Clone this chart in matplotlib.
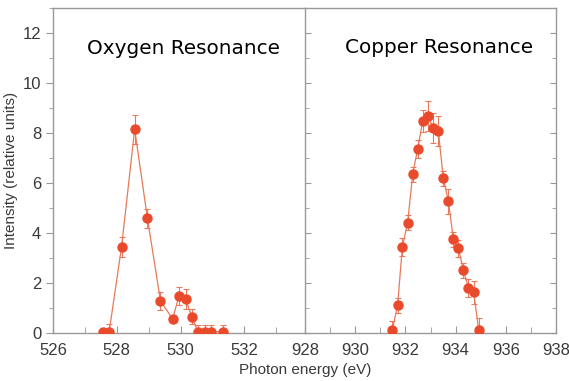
import matplotlib.pyplot as plt
from matplotlib.ticker import MultipleLocator

# Oxygen resonance
o_energy = [527.57, 527.76, 528.15, 528.56, 528.96, 529.37, 529.75, 529.95,
            530.16, 530.35, 530.54, 530.75, 530.95, 531.34]
o_intensity = [0.05, 0.05, 3.45, 8.15, 4.59, 1.28, 0.56, 1.49,
               1.35, 0.65, 0.05, 0.05, 0.05, 0.05]
o_err = [0.0, 0.3, 0.4, 0.57, 0.38, 0.35, 0.1, 0.36,
         0.4, 0.3, 0.28, 0.28, 0.28, 0.28]

# Copper resonance
cu_energy = [931.48, 931.69, 931.88, 932.09, 932.29, 932.49, 932.69, 932.89,
             933.11, 933.31, 933.51, 933.71, 933.91, 934.11, 934.31, 934.51,
             934.72, 934.92]
cu_intensity = [0.12, 1.12, 3.45, 4.41, 6.35, 7.37, 8.49, 8.69,
                8.19, 8.09, 6.19, 5.28, 3.76, 3.39, 2.52, 1.81,
                1.63, 0.12]
cu_err = [0.35, 0.3, 0.35, 0.3, 0.3, 0.35, 0.45, 0.6,
          0.6, 0.6, 0.3, 0.5, 0.3, 0.35, 0.3, 0.35,
          0.45, 0.5]

marker_col = '#ea4a2c'
line_col = '#e8795a'
spine_col = '#999999'
text_col = '#3a3a3a'
tick_font = ['Liberation Sans Narrow', 'Liberation Sans', 'DejaVu Sans']

fig = plt.figure(figsize=(5.69, 3.81), dpi=100)
ax1 = fig.add_axes([53 / 569, 1 - 333 / 381, 252 / 569, 325 / 381])
ax2 = fig.add_axes([305 / 569, 1 - 333 / 381, 251 / 569, 325 / 381])

for ax, x, y, e in [(ax1, o_energy, o_intensity, o_err),
                    (ax2, cu_energy, cu_intensity, cu_err)]:
    ax.errorbar(x, y, yerr=e, fmt='-', color=line_col, lw=0.9,
                ecolor=line_col, elinewidth=0.8, capsize=2.5, capthick=0.8,
                zorder=2)
    ax.plot(x, y, 'o', color=marker_col, ms=6.5, zorder=3)
    ax.set_ylim(0, 13)
    ax.yaxis.set_major_locator(MultipleLocator(2))
    ax.yaxis.set_minor_locator(MultipleLocator(1))
    ax.xaxis.set_major_locator(MultipleLocator(2))
    ax.xaxis.set_minor_locator(MultipleLocator(1))
    for s in ax.spines.values():
        s.set_color(spine_col)
        s.set_linewidth(1.0)
    ax.tick_params(axis='x', which='both', direction='in', color=spine_col,
                   labelcolor=text_col, labelsize=12, pad=7)
    ax.tick_params(axis='x', which='major', length=5)
    ax.tick_params(axis='x', which='minor', length=4)
    for lbl in ax.get_xticklabels():
        lbl.set_family(tick_font)

ax1.set_xlim(526, 533.9)
ax2.set_xlim(928, 938)

ax1.spines['right'].set_visible(False)
ax1.tick_params(axis='y', which='both', direction='out', color=spine_col,
                labelcolor=text_col, labelsize=12)
ax1.tick_params(axis='y', which='major', length=5)
ax1.tick_params(axis='y', which='minor', length=3)
for lbl in ax1.get_yticklabels():
    lbl.set_family(tick_font)
ax1.set_xticks([526, 528, 530, 532])
ax1.set_xticklabels(['526', '528', '530', '532'])
for lbl in ax1.get_xticklabels():
    lbl.set_family(tick_font)

ax2.tick_params(axis='y', which='both', direction='in', color=spine_col,
                labelleft=False, right=True, length=4)
ax2.tick_params(axis='y', which='minor', length=3)

ax1.set_ylabel('Intensity (relative units)', color=text_col, fontsize=11,
               family=tick_font, labelpad=3)
fig.text(305 / 569, 4 / 381, 'Photon energy (eV)', ha='center', va='bottom',
         color=text_col, fontsize=11, family=tick_font)

ax1.text(0.135, 0.857, 'Oxygen Resonance', transform=ax1.transAxes,
         fontsize=14.4, color='black', family='DejaVu Sans')
ax2.text(0.158, 0.862, 'Copper Resonance', transform=ax2.transAxes,
         fontsize=14.4, color='black', family='DejaVu Sans')

plt.savefig('out.png', dpi=100)
